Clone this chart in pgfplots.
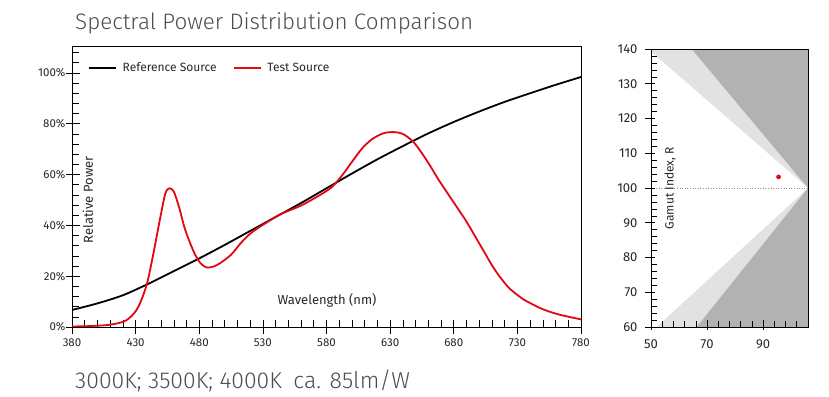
\documentclass[border=0pt]{standalone}
\usepackage{fontspec}
\setmainfont{Fira Sans}
\newfontfamily\titlefont{Fira Sans Light}
\usepackage{pgfplots}
\pgfplotsset{compat=1.18}
\definecolor{redline}{RGB}{227,6,19}
\definecolor{darkreg}{RGB}{178,178,178}
\definecolor{lightreg}{RGB}{226,226,226}
\definecolor{txt}{RGB}{40,40,40}

\begin{document}
\begin{tikzpicture}[x=1pt,y=1pt]
\useasboundingbox (0,0) rectangle (829,396);
\node[anchor=base west, font=\titlefont\fontsize{22.4}{26}\selectfont, text=black!70, inner sep=0] at (75,366) {Spectral Power Distribution Comparison};
\node[anchor=base west, font=\titlefont\fontsize{23}{26}\selectfont, text=black!70, inner sep=0] at (75,8) {3000K; 3500K; 4000K\hspace{0.5em}ca. 85lm/W};

\begin{axis}[
  at={(72pt,69pt)}, anchor=south west, scale only axis,
  width=509pt, height=281pt,
  /pgf/number format/assume math mode=true,
  xmin=380, xmax=780, ymin=0, ymax=110.6,
  xtick={380,430,...,780}, ytick={0,20,...,100},
  minor xtick={390,400,410,420,440,450,460,470,490,500,510,520,540,550,560,570,590,600,610,620,640,650,660,670,690,700,710,720,740,750,760,770},
  minor ytick={4,8,12,16,24,28,32,36,44,48,52,56,64,68,72,76,84,88,92,96,104,108},
  xtick pos=bottom, ytick pos=left,
  yticklabel={\pgfmathprintnumber{\tick}\%},
  tick align=inside,
  major x tick style={yshift=-7pt},
  major y tick style={xshift=-6pt},
  x tick style={line width=0.6pt, black},
  y tick style={line width=0.6pt, black},
  major tick length=14pt, minor tick length=7pt,
  axis line style={line width=0.8pt, black},
  ticklabel style={font=\fontsize{11.5}{13}\selectfont, text=txt},
  yticklabel style={xshift=-3pt},
  xticklabel style={yshift=-8pt},
  legend style={draw=none, fill=none, at={(0.025,0.922)}, anchor=west, legend columns=2,
    font=\fontsize{12}{14}\selectfont, text=txt,
    /tikz/every even column/.append style={column sep=14pt}},
  legend image code/.code={\draw[#1] (0pt,0pt) -- (27pt,0pt); \path (31pt,0pt);},
  clip=true,
]
\addplot[black, line width=1.8pt, smooth] coordinates {
(380,6.7) (400,9.3) (420,12.5) (440,17.0) (460,22.0) (480,27.0) (500,32.3) (520,37.8)
(540,43.3) (560,48.8) (580,54.6) (600,60.4) (620,66.0) (640,71.2) (660,76.2) (680,80.7)
(700,84.8) (720,88.6) (740,92.0) (760,95.3) (780,98.4)};
\addlegendentry{Reference Source}
\addplot[redline, line width=1.8pt, smooth] coordinates {
(380,0.2) (390,0.3) (400,0.5) (410,0.9) (420,2.0) (425,3.5) (430,6.2) (434,10) (439,17.2)
(444,29) (449.5,43.4) (453.4,52.6) (456.6,54.6) (460,53.3) (464,47.4) (469,38.2)
(475.7,29.6) (481,25.1) (486.3,23.4) (494,24.4) (504.7,28.3) (512.6,33) (520,36.7)
(530,40.2) (544,44.4) (560,47.8) (575,52) (584,55) (592,59.5) (600,65) (608,70.3)
(616,74.0) (625,76.3) (633,76.7) (640,76) (648,73) (655,68.4) (662,63)
(668,58) (676,52) (684,46) (690,41.5) (697,35.5) (704,29.5) (710,24.3) (716,19.9) (723,15.6)
(730,12.6) (736,10.5) (749,7.2) (762,5.0) (780,3)};
\addlegendentry{Test Source}
\end{axis}
\node[rotate=90, font=\fontsize{13}{15}\selectfont, text=txt] at (88,196) {Relative Power};
\node[font=\fontsize{13}{15}\selectfont, text=txt] at (327,96) {Wavelength (nm)};

\begin{axis}[
  at={(651pt,69pt)}, anchor=south west, scale only axis,
  width=157pt, height=278pt,
  /pgf/number format/assume math mode=true,
  xmin=50, xmax=106, ymin=60, ymax=140,
  xtick={50,70,90}, ytick={60,70,...,140},
  minor xtick={54,58,62,66,74,78,82,86,94,98,102},
  minor ytick={62,64,66,68,72,74,76,78,82,84,86,88,92,94,96,98,102,104,106,108,112,114,116,118,122,124,126,128,132,134,136,138},
  xtick pos=bottom, ytick pos=left,
  tick align=inside,
  major y tick style={xshift=-6pt},
  major x tick style={yshift=-3pt},
  x tick style={line width=0.6pt, black},
  y tick style={line width=0.6pt, black},
  major tick length=10pt, minor tick length=6pt,
  axis line style={line width=0.8pt, black},
  ticklabel style={font=\fontsize{13}{15}\selectfont, text=txt},
  yticklabel style={xshift=-10pt},
  xticklabel style={yshift=-9pt},
  axis on top,
]
\addplot[fill=lightreg, draw=none] coordinates {(106,100) (50,139.3) (50,140) (106,140)} -- cycle;
\addplot[fill=lightreg, draw=none] coordinates {(106,100) (52,60) (106,60)} -- cycle;
\addplot[fill=darkreg, draw=none] coordinates {(106,100) (64.5,140) (106,140)} -- cycle;
\addplot[fill=darkreg, draw=none] coordinates {(106,100) (66.3,60) (106,60)} -- cycle;
\addplot[black!45, dotted, line width=0.6pt] coordinates {(50,100) (106,100)};
\addplot[only marks, mark=*, mark size=2.1pt, redline] coordinates {(95.5,103.2)};
\end{axis}
\node[rotate=90, font=\fontsize{12}{14}\selectfont, text=txt] at (670,208) {Gamut Index, R};
\end{tikzpicture}
\end{document}
